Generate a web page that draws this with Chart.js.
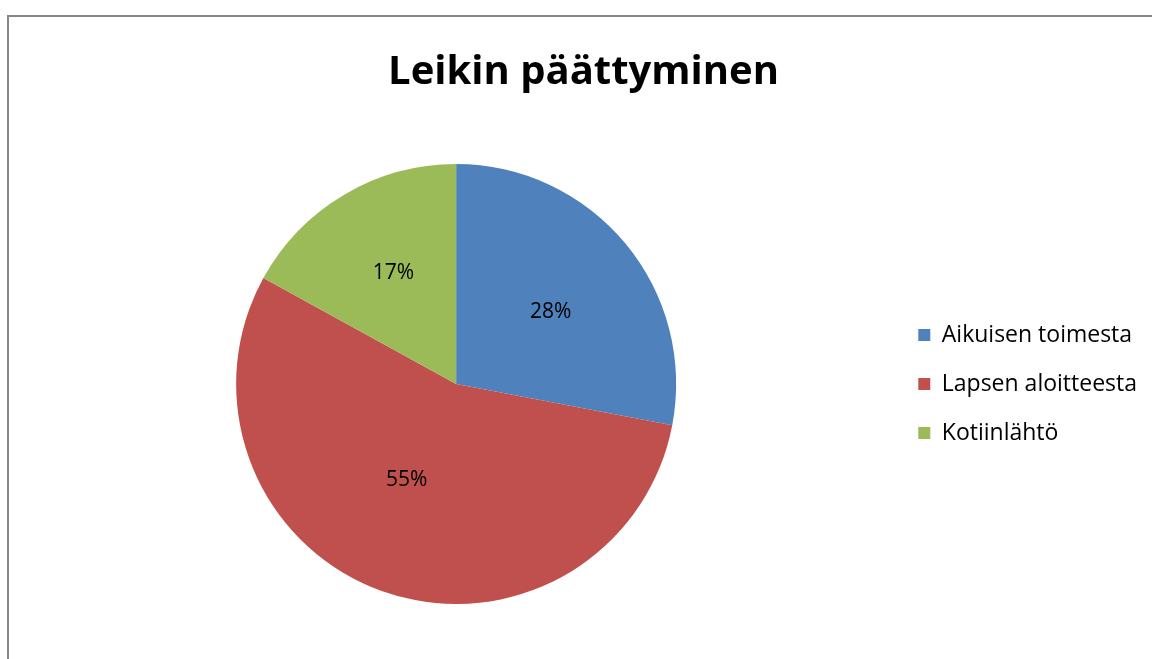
<!DOCTYPE html>
<html>
<head>
<meta charset="utf-8">
<script src="https://cdn.jsdelivr.net/npm/chart.js@4"></script>
<style>
  html, body { margin: 0; padding: 0; background: #fff; overflow: hidden; }
  #frame { position: absolute; left: 7px; top: 15px; width: 2000px; height: 2000px;
           border-left: 2px solid #878787; border-top: 2px solid #878787; }
  #wrap { position: absolute; left: 0; top: 0; width: 1152px; height: 659px; }
</style>
</head>
<body>
<div id="frame"></div>
<div id="wrap"><canvas id="c" width="1152" height="659"></canvas></div>
<script>
const chartTitle = 'Leikin päättyminen';
const categories = ['Aikuisen toimesta', 'Lapsen aloitteesta', 'Kotiinlähtö'];
const values = [28, 55, 17];
const sliceColors = ['#4F81BD', '#C0504D', '#9BBB59'];

// label placement style (fraction of radius, angle shift in degrees)
const labelRadius = [0.54, 0.49, 0.58];
const labelAngleShift = [2.4, 7.5, 1.2];

const pctLabels = {
  id: 'pctLabels',
  afterDatasetsDraw(chart) {
    const ctx = chart.ctx;
    const meta = chart.getDatasetMeta(0);
    const data = chart.data.datasets[0].data;
    const total = data.reduce((a, b) => a + b, 0);
    ctx.save();
    ctx.font = '21px "Open Sans"';
    ctx.fillStyle = '#000';
    ctx.textAlign = 'center';
    ctx.textBaseline = 'middle';
    meta.data.forEach((arc, i) => {
      const p = arc.getProps(['x', 'y', 'startAngle', 'endAngle', 'outerRadius'], true);
      const mid = (p.startAngle + p.endAngle) / 2 + labelAngleShift[i] * Math.PI / 180;
      const r = p.outerRadius * labelRadius[i];
      const txt = Math.round(data[i] / total * 100) + '%';
      ctx.fillText(txt, p.x + Math.cos(mid) * r, p.y + Math.sin(mid) * r);
    });
    ctx.restore();
  }
};

new Chart(document.getElementById('c'), {
  type: 'pie',
  data: {
    labels: categories,
    datasets: [{
      data: values,
      backgroundColor: sliceColors,
      borderWidth: 0
    }]
  },
  options: {
    responsive: false,
    animation: false,
    layout: { padding: { left: 20, right: 5, top: 0, bottom: 55 } },
    plugins: {
      title: {
        display: true,
        text: chartTitle,
        color: '#000',
        font: { family: '"Open Sans"', size: 40, weight: 'bold', lineHeight: 1.2 },
        padding: { top: 49, bottom: 67 }
      },
      legend: {
        display: true,
        position: 'right',
        fullSize: false,
        labels: {
          color: '#000',
          font: { family: '"Open Sans"', size: 23, lineHeight: 1.2 },
          boxWidth: 12,
          boxHeight: 12,
          padding: 26
        }
      },
      tooltip: { enabled: false }
    }
  },
  plugins: [pctLabels]
});
</script>
</body>
</html>
